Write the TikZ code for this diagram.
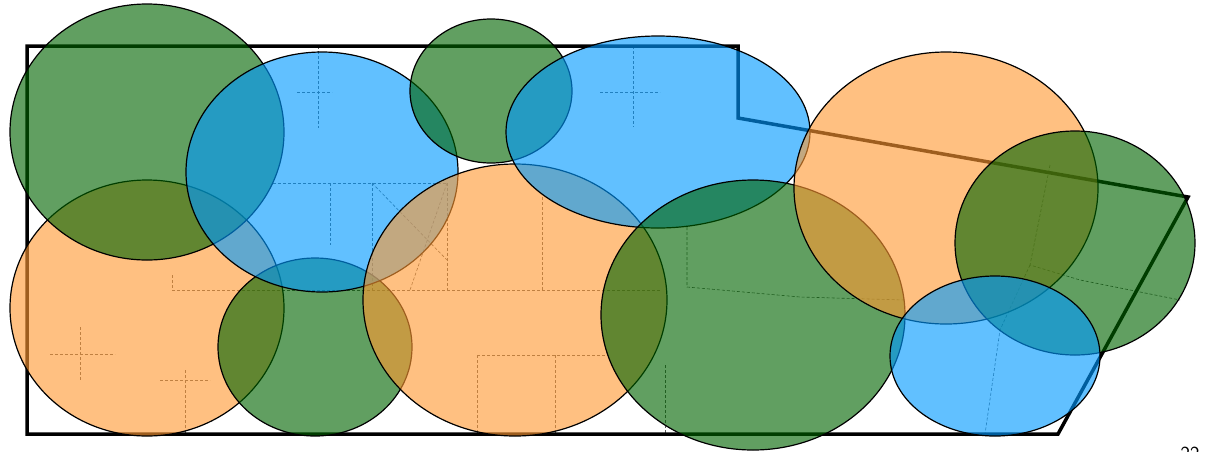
\documentclass[tikz,border=0pt]{standalone}
\usepackage{tikz}
\usetikzlibrary{positioning}
\definecolor{zonegreen}{RGB}{0,100,0}
\definecolor{zoneblue}{RGB}{0,153,255}
\definecolor{zoneorange}{RGB}{255,153,51}

\begin{document}
\begin{tikzpicture}[x=1pt,y=-1pt,
		wall/.style={line width=3.5pt, line join=miter},
		plan/.style={densely dashed, line width=0.6pt, black!65},
		zone/.style={draw=black, line width=1.2pt, fill opacity=0.62},
		gzone/.style={zone, fill=zonegreen},
		bzone/.style={zone, fill=zoneblue},
		ozone/.style={zone, fill=zoneorange}]
		\useasboundingbox (0,0) rectangle (1205,451);
		
		% Floor plan (inner walls)
		\draw[plan] (318,46) -- (318,128);
		\draw[plan] (297,92) -- (332,92);
		\draw[plan] (633,46) -- (633,127);
		\draw[plan] (600,92) -- (660,92);
		\draw[plan] (273,183) -- (447,183);
		\draw[plan] (330,183) -- (330,245);
		\draw[plan] (372,183) -- (372,290);
		\draw[plan] (447,183) -- (447,290);
		\draw[plan] (372,183) -- (447,260) (447,183) -- (410,290);
		\draw[plan] (172,290) -- (660,290);
		\draw[plan] (172,275) -- (172,290);
		\draw[plan] (542,197) -- (542,290);
		\draw[plan] (80,327) -- (80,380);
		\draw[plan] (50,354) -- (115,354);
		\draw[plan] (160,380) -- (210,380);
		\draw[plan] (185,370) -- (185,434);
		\draw[plan] (477,355) -- (607,355);
		\draw[plan] (477,355) -- (477,434);
		\draw[plan] (555,355) -- (555,434);
		\draw[plan] (687,227) -- (687,287) -- (800,297) -- (905,300);
		\draw[plan] (665,365) -- (665,434);
		\draw[plan] (1050,165) -- (1030,265) -- (1080,280) -- (1180,300);
		\draw[plan] (1030,265) -- (1000,330) -- (985,434);
		
		% Outer walls
		\draw[wall] (27,46) -- (738,46) -- (738,118) -- (1188,197) -- (1058,434) -- (27,434) -- cycle;
		
		% Coverage zones, left part
		\draw[ozone] (147,308) ellipse [x radius=137, y radius=128];
		\draw[gzone] (147,132) ellipse [x radius=137, y radius=128];
		\draw[gzone] (315,347) ellipse [x radius=97, y radius=89];
		\draw[bzone] (322,172) ellipse [x radius=136, y radius=120];
		
		% Coverage zones, middle part
		\draw[gzone] (491,91) ellipse [x radius=81, y radius=72];
		\draw[ozone] (515,300) ellipse [x radius=152, y radius=136];
		\draw[bzone] (658,132) ellipse [x radius=152, y radius=96];
		\draw[gzone] (753,315) ellipse [x radius=152, y radius=135];
		
		% Coverage zones, right part
		\draw[ozone] (946,188) ellipse [x radius=152, y radius=136];
		\draw[gzone] (1075,243) ellipse [x radius=120, y radius=112];
		\draw[bzone] (995,356) ellipse [x radius=105, y radius=80];
		
		% Page number, cut by the edge
		\node[anchor=north, inner sep=0pt, font=\sffamily\fontsize{20}{20}\selectfont] (pagenum) at (1190,447) {22};
	\end{tikzpicture}
\end{document}
